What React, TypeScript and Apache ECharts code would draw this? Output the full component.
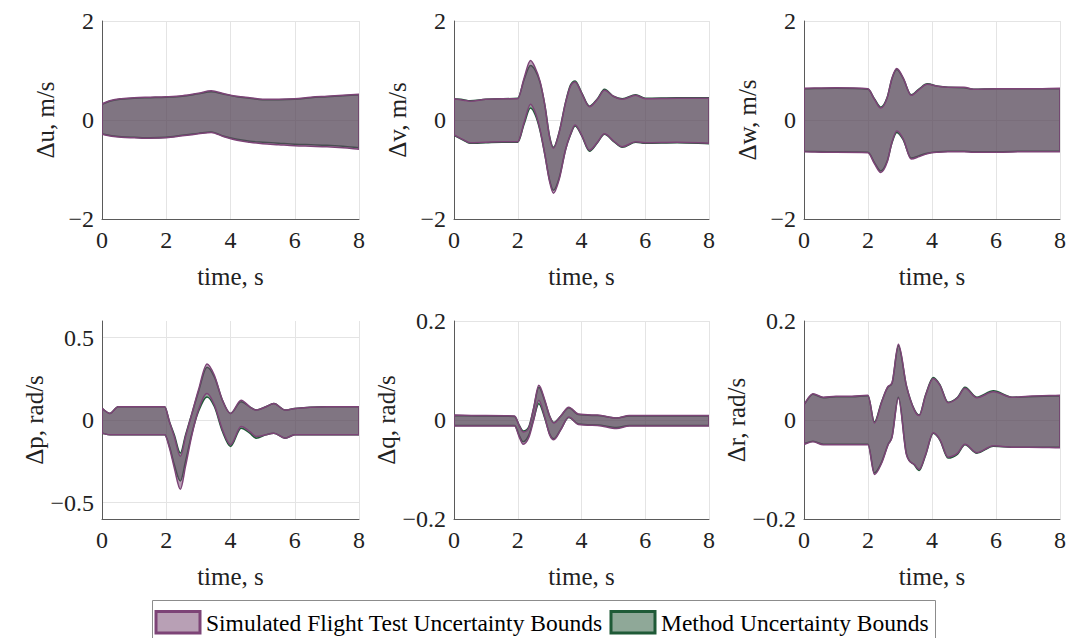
import React, { useEffect, useRef } from 'react';
import * as echarts from 'echarts';

// ---------- data ----------
const tU = [0, 0.3, 0.6, 1, 1.5, 2, 2.5, 3, 3.4, 3.8, 4.2, 4.6, 5, 5.5, 6, 6.5, 7, 7.5, 8];
const uUpP = [0.33, 0.40, 0.43, 0.45, 0.46, 0.47, 0.49, 0.54, 0.59, 0.53, 0.48, 0.45, 0.42, 0.42, 0.43, 0.46, 0.48, 0.50, 0.52];
const uLoP = [-0.29, -0.33, -0.35, -0.36, -0.37, -0.36, -0.32, -0.28, -0.25, -0.34, -0.41, -0.45, -0.48, -0.50, -0.52, -0.53, -0.54, -0.56, -0.59];
const uUpG = [0.32, 0.39, 0.42, 0.44, 0.45, 0.46, 0.48, 0.53, 0.57, 0.52, 0.47, 0.44, 0.41, 0.41, 0.42, 0.45, 0.47, 0.49, 0.51];
const uLoG = [-0.28, -0.32, -0.34, -0.35, -0.36, -0.35, -0.31, -0.27, -0.24, -0.33, -0.39, -0.43, -0.45, -0.47, -0.49, -0.50, -0.51, -0.53, -0.56];

const tV = [0, 0.3, 0.5, 1, 1.5, 2, 2.2, 2.4, 2.55, 2.7, 2.85, 3.0, 3.12, 3.3, 3.5, 3.65, 3.8, 4.0, 4.25, 4.5, 4.72, 5.0, 5.28, 5.7, 6, 7, 8];
const vUpP = [0.43, 0.40, 0.38, 0.42, 0.43, 0.43, 0.85, 1.20, 1.05, 0.78, 0.30, -0.35, -0.57, -0.25, 0.35, 0.68, 0.77, 0.55, 0.27, 0.42, 0.60, 0.48, 0.42, 0.50, 0.43, 0.44, 0.44];
const vLoP = [-0.30, -0.40, -0.46, -0.45, -0.44, -0.44, -0.05, 0.32, 0.15, -0.20, -0.70, -1.25, -1.48, -1.20, -0.60, -0.30, -0.10, -0.30, -0.61, -0.45, -0.28, -0.42, -0.54, -0.44, -0.46, -0.45, -0.47];
const vUpG = [0.43, 0.41, 0.39, 0.42, 0.43, 0.44, 0.82, 1.10, 1.00, 0.76, 0.30, -0.33, -0.55, -0.24, 0.36, 0.70, 0.79, 0.56, 0.28, 0.43, 0.62, 0.48, 0.43, 0.51, 0.44, 0.45, 0.45];
const vLoG = [-0.31, -0.41, -0.47, -0.46, -0.45, -0.45, -0.08, 0.24, 0.10, -0.22, -0.70, -1.22, -1.42, -1.17, -0.60, -0.31, -0.12, -0.31, -0.63, -0.46, -0.29, -0.43, -0.55, -0.45, -0.47, -0.46, -0.48];

const tW = [0, 1, 2, 2.2, 2.4, 2.6, 2.75, 2.9, 3.1, 3.35, 3.6, 3.85, 4.2, 4.5, 5, 5.3, 6, 7, 8];
const wUpP = [0.64, 0.65, 0.63, 0.42, 0.24, 0.45, 0.85, 1.04, 0.85, 0.50, 0.62, 0.72, 0.68, 0.66, 0.66, 0.62, 0.63, 0.63, 0.64];
const wLoP = [-0.64, -0.65, -0.66, -0.88, -1.06, -0.85, -0.45, -0.22, -0.38, -0.79, -0.74, -0.68, -0.65, -0.64, -0.64, -0.65, -0.65, -0.64, -0.64];
const wUpG = [0.63, 0.64, 0.62, 0.43, 0.26, 0.46, 0.84, 1.02, 0.84, 0.51, 0.63, 0.73, 0.68, 0.66, 0.65, 0.62, 0.63, 0.63, 0.63];
const wLoG = [-0.63, -0.64, -0.65, -0.86, -1.03, -0.83, -0.46, -0.25, -0.40, -0.77, -0.72, -0.67, -0.64, -0.63, -0.63, -0.64, -0.64, -0.63, -0.63];

const tP = [0, 0.25, 0.5, 1, 1.5, 1.95, 2.1, 2.25, 2.44, 2.6, 2.8, 3.0, 3.27, 3.5, 3.75, 4.0, 4.33, 4.6, 4.8, 5.1, 5.35, 5.7, 6, 7, 8];
const pUpP = [0.07, 0.04, 0.08, 0.08, 0.08, 0.08, -0.01, -0.10, -0.22, -0.10, 0.04, 0.18, 0.34, 0.27, 0.12, 0.04, 0.12, 0.08, 0.06, 0.08, 0.10, 0.06, 0.07, 0.08, 0.08];
const pLoP = [-0.08, -0.09, -0.09, -0.09, -0.09, -0.09, -0.17, -0.29, -0.42, -0.28, -0.09, 0.06, 0.16, 0.09, -0.06, -0.15, -0.04, -0.07, -0.10, -0.09, -0.08, -0.11, -0.09, -0.09, -0.09];
const pUpG = [0.07, 0.04, 0.08, 0.08, 0.08, 0.08, -0.01, -0.09, -0.20, -0.09, 0.04, 0.17, 0.32, 0.26, 0.12, 0.04, 0.11, 0.08, 0.06, 0.08, 0.10, 0.06, 0.07, 0.08, 0.08];
const pLoG = [-0.08, -0.09, -0.09, -0.09, -0.09, -0.09, -0.16, -0.27, -0.37, -0.25, -0.08, 0.05, 0.14, 0.08, -0.07, -0.16, -0.05, -0.08, -0.11, -0.09, -0.08, -0.11, -0.09, -0.09, -0.09];

const tQ = [0, 1, 1.9, 2.05, 2.17, 2.35, 2.5, 2.66, 2.85, 3.0, 3.13, 3.35, 3.6, 3.9, 4.5, 5.1, 5.5, 6, 7, 8];
const qUpP = [0.010, 0.009, 0.008, -0.012, -0.024, -0.015, 0.025, 0.070, 0.040, 0.008, -0.006, 0.008, 0.026, 0.012, 0.010, 0.004, 0.009, 0.009, 0.009, 0.009];
const qLoP = [-0.012, -0.012, -0.012, -0.035, -0.049, -0.035, 0.000, 0.040, 0.005, -0.030, -0.040, -0.020, 0.006, -0.009, -0.011, -0.017, -0.012, -0.012, -0.012, -0.012];
const qUpG = [0.009, 0.008, 0.007, -0.011, -0.022, -0.013, 0.024, 0.066, 0.038, 0.008, -0.005, 0.008, 0.025, 0.011, 0.009, 0.004, 0.008, 0.008, 0.008, 0.008];
const qLoG = [-0.011, -0.011, -0.011, -0.032, -0.044, -0.030, 0.002, 0.033, 0.003, -0.028, -0.038, -0.019, 0.005, -0.008, -0.010, -0.015, -0.011, -0.011, -0.011, -0.011];

const tR = [0, 0.28, 0.6, 1, 1.5, 2.0, 2.2, 2.42, 2.63, 2.75, 2.95, 3.2, 3.45, 3.6, 3.8, 4.04, 4.25, 4.5, 4.8, 5.03, 5.4, 5.92, 6.5, 7, 8];
const rUpP = [0.032, 0.053, 0.046, 0.048, 0.048, 0.050, -0.006, 0.035, 0.068, 0.075, 0.153, 0.070, 0.020, 0.009, 0.050, 0.084, 0.070, 0.035, 0.045, 0.064, 0.045, 0.057, 0.046, 0.048, 0.050];
const rLoP = [-0.049, -0.044, -0.050, -0.050, -0.050, -0.050, -0.110, -0.088, -0.050, -0.035, 0.044, -0.070, -0.090, -0.100, -0.070, -0.026, -0.040, -0.075, -0.067, -0.049, -0.066, -0.052, -0.055, -0.055, -0.056];
const rUpG = [0.031, 0.052, 0.045, 0.047, 0.047, 0.049, -0.004, 0.036, 0.067, 0.074, 0.150, 0.069, 0.021, 0.010, 0.051, 0.086, 0.071, 0.036, 0.046, 0.066, 0.046, 0.059, 0.046, 0.047, 0.049];
const rLoG = [-0.048, -0.043, -0.049, -0.049, -0.049, -0.049, -0.107, -0.086, -0.049, -0.034, 0.046, -0.068, -0.091, -0.102, -0.071, -0.027, -0.041, -0.077, -0.069, -0.050, -0.067, -0.053, -0.055, -0.055, -0.055];

const yNames = ['Δu, m/s', 'Δv, m/s', 'Δw, m/s', 'Δp, rad/s', 'Δq, rad/s', 'Δr, rad/s'];
const xName = 'time, s';
const legendNames = ['Simulated Flight Test Uncertainty Bounds', 'Method Uncertainty Bounds'];
const pTicks = [-0.5, 0, 0.5];

// ---------- styling / layout ----------
const FONT = "'Liberation Serif', 'Times New Roman', serif";
const PURPLE_FILL = 'rgba(113,65,107,0.5)';
const PURPLE_EDGE = '#7d4477';
const GREEN_FILL = 'rgba(31,81,49,0.5)';
const GREEN_EDGE = '#1f5a37';
const GRID_COLOR = '#e4e4e4';

const panels = [
  { t: tU, up: [uUpG, uUpP], lo: [uLoG, uLoP], min: -2, max: 2, step: 2 },
  { t: tV, up: [vUpG, vUpP], lo: [vLoG, vLoP], min: -2, max: 2, step: 2 },
  { t: tW, up: [wUpG, wUpP], lo: [wLoG, wLoP], min: -2, max: 2, step: 2 },
  { t: tP, up: [pUpG, pUpP], lo: [pLoG, pLoP], min: -0.6, max: 0.6, step: 0.1, custom: pTicks },
  { t: tQ, up: [qUpG, qUpP], lo: [qLoG, qLoP], min: -0.2, max: 0.2, step: 0.2 },
  { t: tR, up: [rUpG, rUpP], lo: [rLoG, rLoP], min: -0.2, max: 0.2, step: 0.2 },
];

const grids = [
  { left: 102, top: 21, width: 257, height: 198 },
  { left: 454, top: 21, width: 255, height: 198 },
  { left: 804, top: 21, width: 256, height: 198 },
  { left: 102, top: 321, width: 257, height: 198 },
  { left: 454, top: 321, width: 255, height: 198 },
  { left: 804, top: 321, width: 256, height: 198 },
];

const fmt = (v: number) => {
  const r = Math.round(v * 1000) / 1000;
  return String(r).replace('-', '\u2212');
};

// monotone cubic (Fritsch–Carlson) bezier segments through pixel points
function segments(pts: number[][]) {
  const n = pts.length;
  const d: number[] = [];
  for (let i = 0; i < n - 1; i++) {
    const h = pts[i + 1][0] - pts[i][0];
    d.push(h === 0 ? 0 : (pts[i + 1][1] - pts[i][1]) / h);
  }
  const m: number[] = new Array(n).fill(0);
  m[0] = d[0];
  m[n - 1] = d[n - 2];
  for (let i = 1; i < n - 1; i++) {
    m[i] = d[i - 1] * d[i] <= 0 ? 0 : (d[i - 1] + d[i]) / 2;
  }
  for (let i = 0; i < n - 1; i++) {
    if (d[i] === 0) { m[i] = 0; m[i + 1] = 0; continue; }
    const a = m[i] / d[i], b = m[i + 1] / d[i];
    const s = a * a + b * b;
    if (s > 9) {
      const tau = 3 / Math.sqrt(s);
      m[i] = tau * a * d[i];
      m[i + 1] = tau * b * d[i];
    }
  }
  const segs: number[][][] = [];
  for (let i = 0; i < n - 1; i++) {
    const h = pts[i + 1][0] - pts[i][0];
    segs.push([
      pts[i],
      [pts[i][0] + h / 3, pts[i][1] + (m[i] * h) / 3],
      [pts[i + 1][0] - h / 3, pts[i + 1][1] - (m[i + 1] * h) / 3],
      pts[i + 1],
    ]);
  }
  return segs;
}

function bandPath(up: number[][], lo: number[][]) {
  const su = segments(up);
  const sl = segments(lo);
  const f = (p: number[]) => p[0].toFixed(2) + ' ' + p[1].toFixed(2);
  let s = 'M ' + f(up[0]);
  su.forEach((g) => { s += ' C ' + f(g[1]) + ' ' + f(g[2]) + ' ' + f(g[3]); });
  s += ' L ' + f(lo[lo.length - 1]);
  for (let i = sl.length - 1; i >= 0; i--) {
    const g = sl[i];
    s += ' C ' + f(g[2]) + ' ' + f(g[1]) + ' ' + f(g[0]);
  }
  return s + ' Z';
}

export default function App() {
  const ref = useRef<HTMLDivElement>(null);
  useEffect(() => {
    if (!ref.current) return;
    const chart = echarts.init(ref.current, null, { renderer: 'svg' });

    const series: any[] = [];
    panels.forEach((p, i) => {
      if (p.custom) {
        series.push({
          type: 'line', xAxisIndex: i, yAxisIndex: i, data: [], z: 0, silent: true,
          markLine: {
            z: 0, silent: true, symbol: 'none', label: { show: false },
            lineStyle: { color: GRID_COLOR, type: 'solid', width: 1 },
            data: p.custom.map((v) => [{ coord: [0, v] }, { coord: [8, v] }]),
          },
        });
      }
      [0, 1].forEach((k) => {
        const up = p.up[k];
        const lo = p.lo[k];
        series.push({
          type: 'custom', name: legendNames[k === 1 ? 0 : 1], xAxisIndex: i, yAxisIndex: i, z: 3 + k,
          clip: true, silent: true,
          data: [[p.t[0], lo[0]]],
          renderItem: (_params: any, api: any) => {
            const U = p.t.map((t, j) => api.coord([t, up[j]]));
            const L = p.t.map((t, j) => api.coord([t, lo[j]]));
            return {
              type: 'path',
              shape: { pathData: bandPath(U, L) },
              style: {
                fill: k === 1 ? PURPLE_FILL : GREEN_FILL,
                stroke: k === 1 ? PURPLE_EDGE : GREEN_EDGE,
                lineWidth: 1.5,
              },
            };
          },
        });
      });
    });

    const axisLine = { show: true, onZero: false, lineStyle: { color: '#5a5a5a', width: 1 } };
    const option: any = {
      animation: false,
      backgroundColor: '#ffffff',
      grid: grids.map((g) => ({ ...g, outerBoundsMode: 'none', containLabel: false })),
      xAxis: panels.map((_p, i) => ({
        type: 'value', gridIndex: i, min: 0, max: 8, interval: 2,
        axisLine, axisTick: { show: false },
        splitLine: { show: true, lineStyle: { color: GRID_COLOR, width: 1 } },
        axisLabel: { fontFamily: FONT, fontSize: 24, color: '#222', margin: 9, formatter: fmt },
        name: xName, nameLocation: 'middle', nameGap: 45,
        nameTextStyle: { fontFamily: FONT, fontSize: 25, color: '#222' },
      })),
      yAxis: panels.map((p, i) => ({
        type: 'value', gridIndex: i, min: p.min, max: p.max, interval: p.step,
        axisLine, axisTick: { show: false },
        splitLine: { show: !p.custom, lineStyle: { color: GRID_COLOR, width: 1 } },
        axisLabel: {
          fontFamily: FONT, fontSize: 24, color: '#222', margin: 8,
          formatter: (v: number) => {
            if (!p.custom) return fmt(v);
            const r = Math.round(v * 10) / 10;
            return p.custom.some((c) => Math.abs(c - r) < 1e-9) ? fmt(r) : '';
          },
        },
        name: yNames[i], nameLocation: 'middle', nameGap: 44, nameRotate: 90,
        nameTextStyle: { fontFamily: FONT, fontSize: 25, color: '#222' },
      })),
      series,
      graphic: [
        { type: 'rect', shape: { x: 152.5, y: 600.5, width: 783, height: 60 }, style: { fill: '#fff', stroke: '#8c8c8c', lineWidth: 1 }, z: 10 },
        { type: 'rect', shape: { x: 156, y: 611.5, width: 44, height: 21.5 }, style: { fill: PURPLE_FILL, stroke: PURPLE_EDGE, lineWidth: 3 }, z: 11 },
        { type: 'text', x: 206, y: 623, style: { text: legendNames[0], fontFamily: FONT, fontSize: 23.5, fill: '#000', verticalAlign: 'middle', align: 'left' }, z: 11 },
        { type: 'rect', shape: { x: 611, y: 611.5, width: 44, height: 21.5 }, style: { fill: GREEN_FILL, stroke: GREEN_EDGE, lineWidth: 3 }, z: 11 },
        { type: 'text', x: 661, y: 623, style: { text: legendNames[1], fontFamily: FONT, fontSize: 23.5, fill: '#000', verticalAlign: 'middle', align: 'left' }, z: 11 },
      ],
    };
    chart.setOption(option);
    return () => chart.dispose();
  }, []);

  return (
    <div
      ref={ref}
      style={{ position: 'absolute', left: 0, top: 0, width: 1071, height: 638, background: '#fff' }}
    />
  );
}
